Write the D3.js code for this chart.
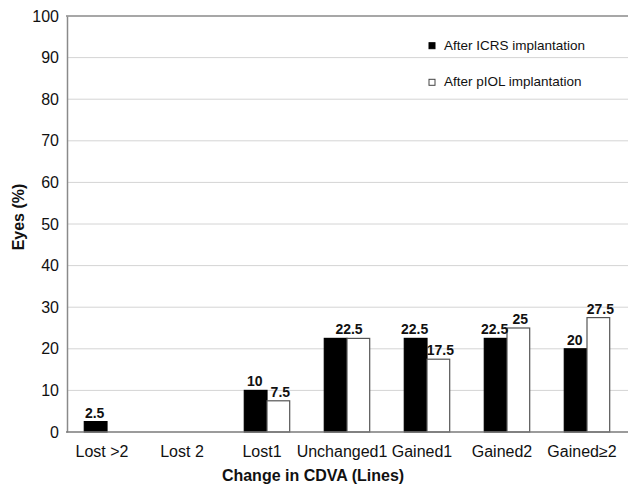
<!DOCTYPE html>
<html>
<head>
<meta charset="utf-8">
<script src="https://cdn.jsdelivr.net/npm/d3@7"></script>
<style>
  body { margin: 0; background: #fff; }
  svg { display: block; font-family: "Liberation Sans", Arial, Helvetica, sans-serif; }
</style>
</head>
<body>
<div id="chart"></div>
<script>
// Change in CDVA - grouped bars

const categories = ['Lost >2', 'Lost 2', 'Lost1', 'Unchanged1', 'Gained1', 'Gained2', 'Gained\u22652'];
const seriesNames = ['After ICRS implantation', 'After pIOL implantation'];
const icrsValues = [2.5, 0, 10, 22.5, 22.5, 22.5, 20];
const piolValues = [0, 0, 7.5, 22.5, 17.5, 25, 27.5];
const yTicks = [0, 10, 20, 30, 40, 50, 60, 70, 80, 90, 100];

const width = 628;
const height = 487;

const svg = d3.select('#chart')
    .append('svg')
    .attr('width', width)
    .attr('height', height);

// scales
const x = d3.scaleBand().domain(categories).range([67, 627]);
const barW = 22.7;
const xSub = d3.scaleBand().domain(seriesNames).range([-barW, barW]);
const y = d3.scaleLinear().domain([0, 100]).range([432, 16]);

// gridlines
svg.append('g')
    .selectAll('line')
    .data(yTicks.filter(t => t > 0 && t < 100))
    .enter().append('line')
    .attr('x1', 67).attr('x2', width)
    .attr('y1', d => y(d)).attr('y2', d => y(d))
    .style('stroke', '#d4d4d4')
    .style('stroke-width', 1);

// top frame line
svg.append('line')
    .attr('x1', 66).attr('x2', width)
    .attr('y1', y(100)).attr('y2', y(100))
    .style('stroke', '#8a8a8a')
    .style('stroke-width', 1.5);

// y axis
const yAxis = svg.append('g')
    .attr('transform', 'translate(67,0)')
    .call(d3.axisLeft(y).tickValues(yTicks).tickSize(0).tickPadding(8));
yAxis.select('.domain').style('stroke', '#8a8a8a').style('stroke-width', 1.5);
yAxis.selectAll('text')
    .style('font-size', '16px')
    .style('fill', '#111')
    .style('font-family', '"Liberation Sans", Arial, sans-serif');

// bars
const rows = categories.map((c, i) => ({ cat: c, vals: [icrsValues[i], piolValues[i]] }));

const groups = svg.append('g')
    .selectAll('g')
    .data(rows)
    .enter().append('g')
    .attr('transform', d => `translate(${x(d.cat) + x.bandwidth() / 2},0)`);

groups.selectAll('rect')
    .data(d => d.vals.map((v, k) => ({ name: seriesNames[k], k: k, v: v })).filter(b => b.v > 0))
    .enter().append('rect')
    .attr('x', b => xSub(b.name))
    .attr('width', barW)
    .attr('y', b => y(b.v))
    .attr('height', b => y(0) - y(b.v))
    .style('fill', b => b.k === 0 ? '#000' : '#fff')
    .style('stroke', b => b.k === 0 ? '#000' : '#555')
    .style('stroke-width', 1.2);

// value labels (one label when both bars match)
groups.selectAll('text')
    .data(d => {
        const out = [];
        if (d.vals[0] > 0 && d.vals[0] === d.vals[1]) {
            out.push({ v: d.vals[0], cx: 2 });
        } else {
            d.vals.forEach((v, k) => {
                if (v > 0) out.push({ v: v, cx: xSub(seriesNames[k]) + barW / 2 + (k === 1 ? 2 : -1) });
            });
        }
        return out;
    })
    .enter().append('text')
    .attr('x', b => b.cx)
    .attr('y', b => y(b.v) - 4)
    .attr('text-anchor', 'middle')
    .style('font-size', '14px')
    .style('font-weight', 'bold')
    .style('fill', '#111')
    .text(b => b.v);

// x axis line
svg.append('line')
    .attr('x1', 66).attr('x2', width)
    .attr('y1', y(0)).attr('y2', y(0))
    .style('stroke', '#7a7a7a')
    .style('stroke-width', 1.5);

// category labels
svg.append('g')
    .selectAll('text')
    .data(categories)
    .enter().append('text')
    .attr('x', d => x(d) + x.bandwidth() / 2 - 5)
    .attr('y', 457)
    .attr('text-anchor', 'middle')
    .style('font-size', '16px')
    .style('fill', '#111')
    .text(d => d);

// axis titles
svg.append('text')
    .attr('x', 313)
    .attr('y', 481)
    .attr('text-anchor', 'middle')
    .style('font-size', '16px')
    .style('font-weight', 'bold')
    .style('fill', '#111')
    .text('Change in CDVA (Lines)');

svg.append('text')
    .attr('transform', 'translate(24,217) rotate(-90)')
    .attr('text-anchor', 'middle')
    .style('font-size', '16px')
    .style('font-weight', 'bold')
    .style('fill', '#111')
    .text('Eyes (%)');

// legend
const legend = svg.append('g')
    .selectAll('g')
    .data(seriesNames)
    .enter().append('g')
    .attr('transform', (d, i) => `translate(429,${42.7 + i * 36.6})`);

legend.append('rect')
    .attr('width', 6).attr('height', 6)
    .style('fill', (d, i) => i === 0 ? '#000' : '#fff')
    .style('stroke', (d, i) => i === 0 ? '#000' : '#444')
    .style('stroke-width', 1);

legend.append('text')
    .attr('x', 15)
    .attr('y', 7)
    .style('font-size', '13.5px')
    .style('fill', '#111')
    .text(d => d);
</script>
</body>
</html>
